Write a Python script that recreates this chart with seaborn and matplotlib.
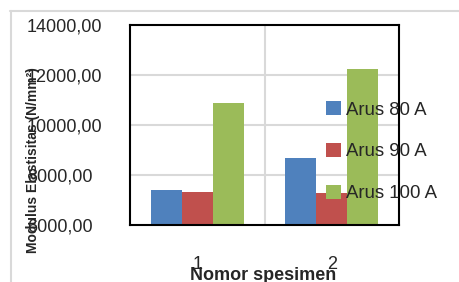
import matplotlib
matplotlib.use("Agg")
import matplotlib.pyplot as plt
import seaborn as sns
import pandas as pd
from matplotlib.lines import Line2D
from matplotlib.patches import Patch

categories = ["1", "2"]
series_names = ["Arus 80 A", "Arus 90 A", "Arus 100 A"]
arus_80 = [7400, 8680]
arus_90 = [7320, 7270]
arus_100 = [10890, 12240]
y_ticks = [6000, 8000, 10000, 12000, 14000]
y_tick_labels = ["6000,00", "8000,00", "10000,00", "12000,00", "14000,00"]
colors = ["#4F81BD", "#C0504D", "#9BBB59"]

rows = []
for name, vals in zip(series_names, [arus_80, arus_90, arus_100]):
    for c, v in zip(categories, vals):
        rows.append({"Nomor": c, "Seri": name, "Nilai": v})
df = pd.DataFrame(rows)

sns.set_style("white")
plt.rcParams["font.family"] = ["Liberation Sans", "DejaVu Sans"]

W, H = 459, 282
fig = plt.figure(figsize=(W / 100, H / 100), dpi=100)
ax = fig.add_axes([130 / W, 1 - 225 / H, (399 - 130) / W, (225 - 25) / H])

sns.barplot(data=df, x="Nomor", y="Nilai", hue="Seri", hue_order=series_names,
            palette=colors, width=0.69, saturation=1, ax=ax, legend=False,
            linewidth=0, edgecolor="none")

ax.set_ylim(6000, 14000)
ax.set_xlim(-0.5, 1.5)
ax.set_yticks(y_ticks)
ax.set_yticklabels(y_tick_labels, fontsize=13, ha="left")
ax.tick_params(axis="y", length=0, pad=103 * 0.72)
ax.tick_params(axis="x", length=0, pad=22, labelsize=13)
ax.set_xlabel("")
ax.set_ylabel("")

for y in [8000, 10000, 12000]:
    ax.axhline(y, color="#d9d9d9", lw=1.5, zorder=0)
ax.axvline(0.5, color="#d9d9d9", lw=1.5, zorder=0)

for s in ax.spines.values():
    s.set_visible(True)
    s.set_color("black")
    s.set_linewidth(1.5)

# outer chart border (top and left)
fig.add_artist(Line2D([10 / W, 1], [1 - 10.5 / H, 1 - 10.5 / H], color="#d9d9d9", lw=1.5))
fig.add_artist(Line2D([10.5 / W, 10.5 / W], [0, 1 - 10.5 / H], color="#d9d9d9", lw=1.5))

fig.text(33 / W, 1 - 160 / H, "Modulus Elastisitas (N/mm²)", rotation=90,
         fontsize=10, fontweight="bold", ha="center", va="center")
fig.text(263.5 / W, 1 - 267 / H, "Nomor spesimen", fontsize=13,
         fontweight="bold", ha="center", va="top")

handles = [Patch(facecolor=c, edgecolor="none") for c in colors]
fig.legend(handles, series_names, loc="upper left",
           bbox_to_anchor=(326 / W, 1 - 101 / H), frameon=False, fontsize=13.4,
           handlelength=0.8, handleheight=0.8, handletextpad=0.25,
           labelspacing=1.3, borderpad=0, borderaxespad=0)

fig.savefig("out.png", dpi=100)
